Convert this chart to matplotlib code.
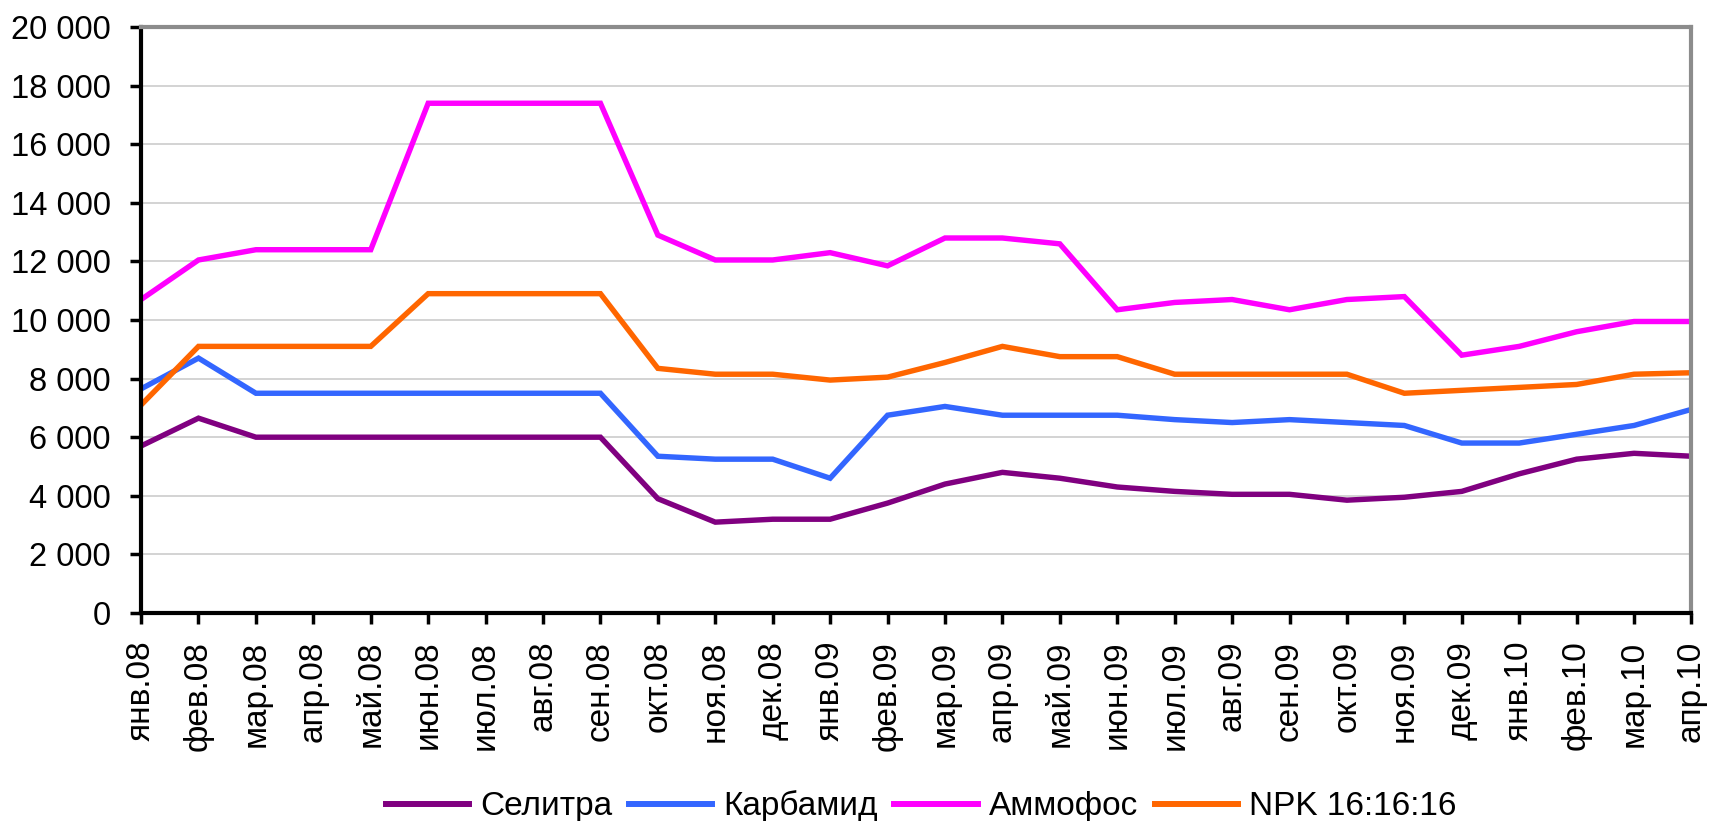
import numpy as np
import matplotlib
matplotlib.use("Agg")
import matplotlib.pyplot as plt
from matplotlib.ticker import FuncFormatter, MultipleLocator

plt.rcParams["font.family"] = ["Liberation Sans", "DejaVu Sans"]

months = ["янв.08", "фев.08", "мар.08", "апр.08", "май.08", "июн.08", "июл.08",
          "авг.08", "сен.08", "окт.08", "ноя.08", "дек.08", "янв.09", "фев.09",
          "мар.09", "апр.09", "май.09", "июн.09", "июл.09", "авг.09", "сен.09",
          "окт.09", "ноя.09", "дек.09", "янв.10", "фев.10", "мар.10", "апр.10"]

selitra = [5700, 6650, 6000, 6000, 6000, 6000, 6000, 6000, 6000, 3900, 3100, 3200, 3200, 3750,
           4400, 4800, 4600, 4300, 4150, 4050, 4050, 3850, 3950, 4150, 4750, 5250, 5450, 5350]
karbamid = [7650, 8700, 7500, 7500, 7500, 7500, 7500, 7500, 7500, 5350, 5250, 5250, 4600, 6750,
            7050, 6750, 6750, 6750, 6600, 6500, 6600, 6500, 6400, 5800, 5800, 6100, 6400, 6950]
ammofos = [10700, 12050, 12400, 12400, 12400, 17400, 17400, 17400, 17400, 12900, 12050, 12050,
           12300, 11850, 12800, 12800, 12600, 10350, 10600, 10700, 10350, 10700, 10800, 8800,
           9100, 9600, 9950, 9950]
npk = [7100, 9100, 9100, 9100, 9100, 10900, 10900, 10900, 10900, 8350, 8150, 8150, 7950, 8050,
       8550, 9100, 8750, 8750, 8150, 8150, 8150, 8150, 7500, 7600, 7700, 7800, 8150, 8200]

series = [("Селитра", selitra, "#800080"),
          ("Карбамид", karbamid, "#3366FF"),
          ("Аммофос", ammofos, "#FF00FF"),
          ("NPK 16:16:16", npk, "#FF6600")]

fig = plt.figure(figsize=(17.12, 8.21), dpi=100)
ax = fig.add_axes([0.0824, 0.2534, 0.9056, 0.7136])

x = np.arange(len(months))
for name, vals, col in series:
    ax.plot(x, vals, color=col, lw=3.9, label=name, solid_joinstyle="miter")

ax.set_xlim(0, len(months) - 1)
ax.set_ylim(0, 20000)
ax.yaxis.set_major_locator(MultipleLocator(2000))
ax.yaxis.set_major_formatter(FuncFormatter(lambda v, p: f"{int(v):,}".replace(",", " ")))
ax.set_xticks(x)
ax.set_xticklabels(months, rotation=90, fontsize=24)
ax.tick_params(axis="y", labelsize=23.5, length=8, width=2.5, pad=14, direction="out")
ax.tick_params(axis="x", length=8, width=2.5, pad=12, direction="out")

ax.grid(axis="y", color="#CCCCCC", lw=1.2)
ax.set_axisbelow(True)
for s in ["left", "bottom"]:
    ax.spines[s].set_linewidth(3)
    ax.spines[s].set_color("black")
for s in ["top", "right"]:
    ax.spines[s].set_linewidth(3)
    ax.spines[s].set_color("#8C8C8C")

leg = fig.legend(loc="center", bbox_to_anchor=(0.538, 0.018), ncol=4, frameon=False,
                 fontsize=24, handlelength=2.5, handletextpad=0.33, columnspacing=0.5)
for h in leg.get_lines():
    h.set_linewidth(4.3)

fig.savefig("out.png", dpi=100)
